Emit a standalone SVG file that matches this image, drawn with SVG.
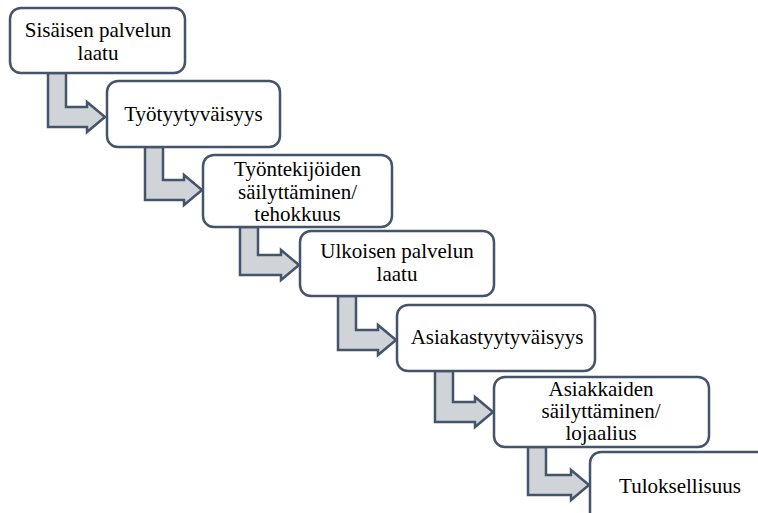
<svg xmlns="http://www.w3.org/2000/svg" width="758" height="513" viewBox="0 0 758 513">
<style>
.box{fill:#ffffff;stroke:#44546A;stroke-width:2.5}
.arr{fill:#D0D3D8;stroke:#44546A;stroke-width:2.5;stroke-linejoin:miter}
.t{font-family:'Liberation Serif','DejaVu Serif','Noto Serif',serif;font-size:21px;fill:#000000;text-anchor:middle}
</style>
<rect width="758" height="513" fill="#ffffff"/>
<g id="connectors">
<path class="arr" d="M48,73 H66 V107 H87 V102 L105,117 L87,132 V127 H48 Z"/>
<path class="arr" d="M145,147 H163 V180 H184 V175 L202,190 L184,205 V200 H145 Z"/>
<path class="arr" d="M240,227 H258 V255 H281 V250 L299,265 L281,280 V275 H240 Z"/>
<path class="arr" d="M338,296 H356 V330 H378 V325 L396,340 L378,355 V350 H338 Z"/>
<path class="arr" d="M435,371 H453 V402 H475 V397 L493,412 L475,427 V422 H435 Z"/>
<path class="arr" d="M528,447 H546 V475 H571 V470 L589,485 L571,500 V495 H528 Z"/>
</g>
<g id="n1">
<rect class="box" x="10" y="8" width="175" height="65" rx="11"/>
<text class="t" x="98" y="37">Sisäisen palvelun<tspan x="98" dy="23">laatu</tspan></text>
</g>
<g id="n2">
<rect class="box" x="107" y="81" width="173" height="66" rx="11"/>
<text class="t" x="193.5" y="121">Työtyytyväisyys</text>
</g>
<g id="n3">
<rect class="box" x="203" y="155" width="189" height="72" rx="11"/>
<text class="t" x="297.5" y="176">Työntekijöiden<tspan x="297.5" dy="22.5">säilyttäminen/</tspan><tspan x="297.5" dy="22.5">tehokkuus</tspan></text>
</g>
<g id="n4">
<rect class="box" x="300" y="231" width="194" height="65" rx="11"/>
<text class="t" x="397" y="258">Ulkoisen palvelun<tspan x="397" dy="22.5">laatu</tspan></text>
</g>
<g id="n5">
<rect class="box" x="397" y="305" width="198" height="66" rx="11"/>
<text class="t" x="497" y="344">Asiakastyytyväisyys</text>
</g>
<g id="n6">
<rect class="box" x="494" y="377" width="215" height="70" rx="11"/>
<text class="t" x="601" y="396">Asiakkaiden<tspan x="601" dy="22">säilyttäminen/</tspan><tspan x="601" dy="22">lojaalius</tspan></text>
</g>
<g id="n7">
<rect class="box" x="590" y="452" width="200" height="100" rx="11"/>
<text class="t" x="680" y="493">Tuloksellisuus</text>
</g>
</svg>
